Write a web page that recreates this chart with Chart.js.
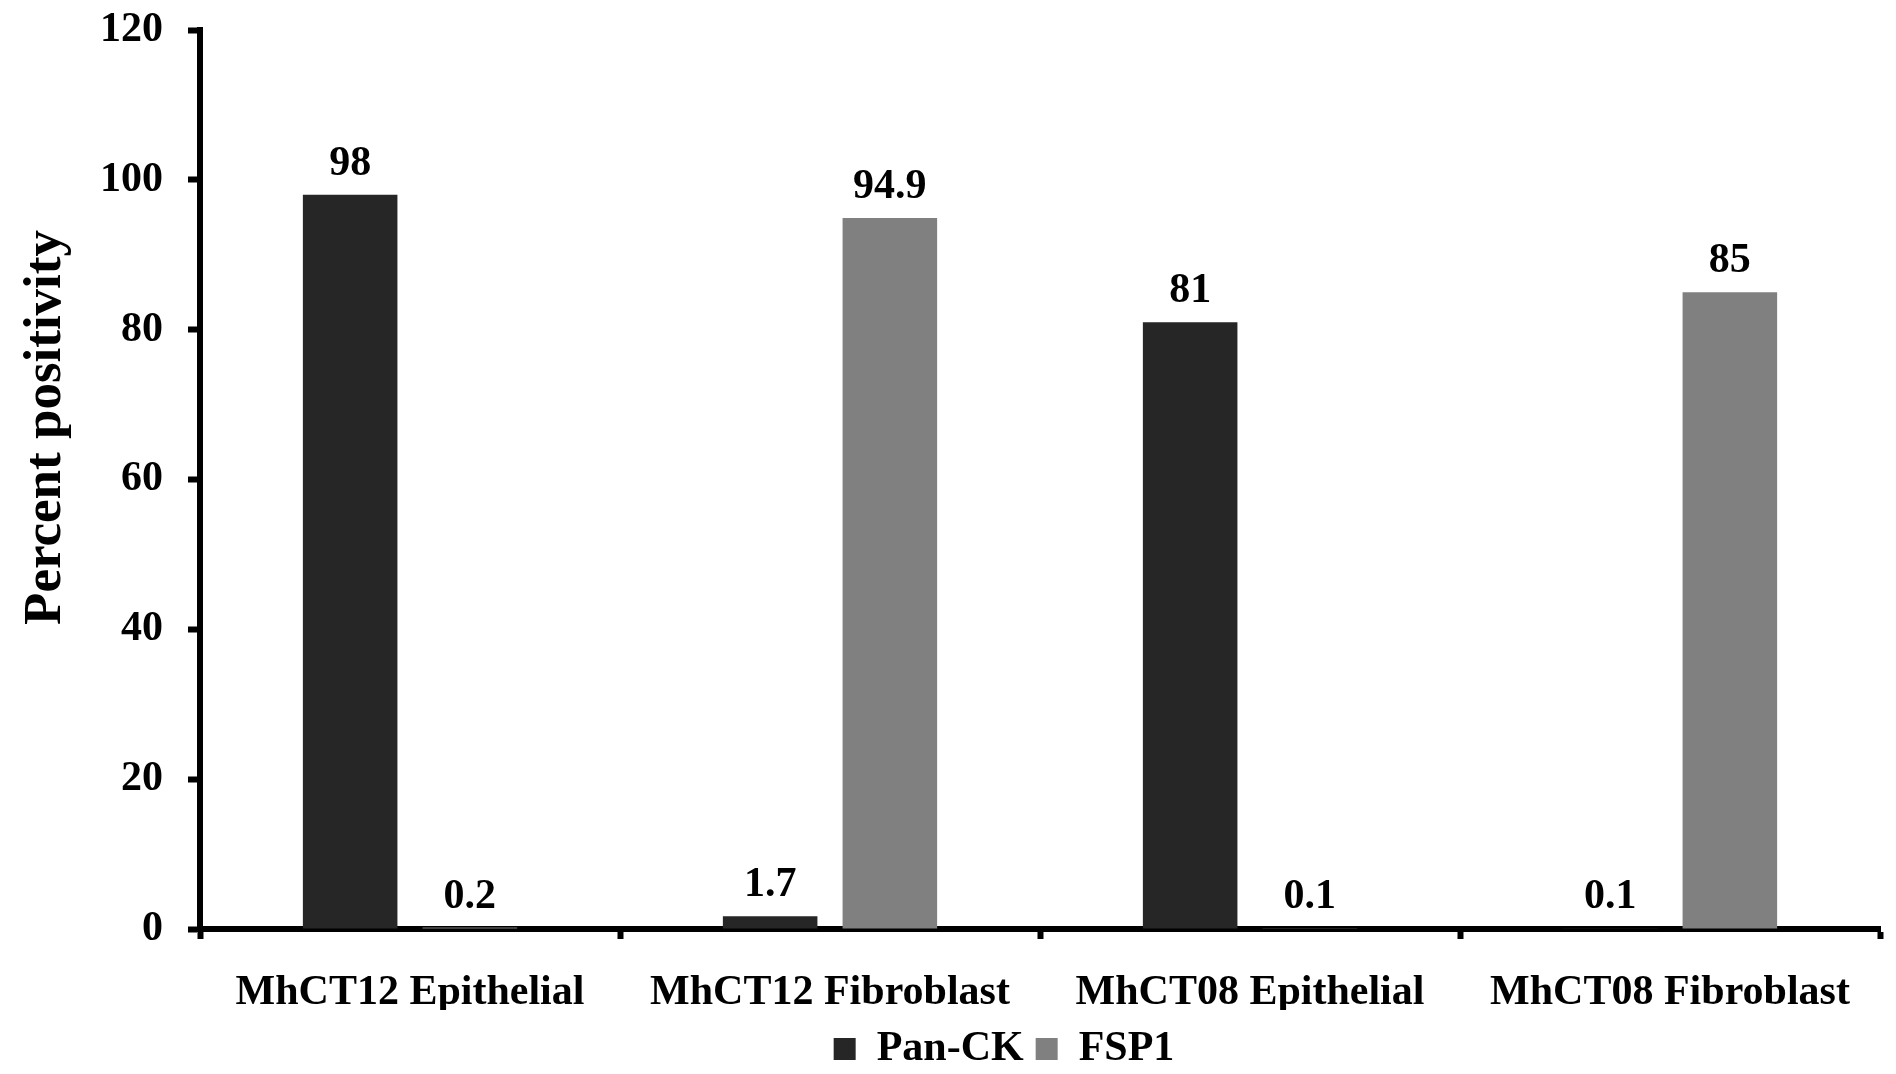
<!DOCTYPE html>
<html>
<head>
<meta charset="utf-8">
<script src="https://cdn.jsdelivr.net/npm/chart.js@4"></script>
<style>
  html, body { margin: 0; padding: 0; background: #fff; }
  #wrap { width: 1896px; height: 1074px; position: relative; }
</style>
</head>
<body>
<div id="wrap"><canvas id="chart"></canvas></div>
<script>
// chart values
const categories = ['MhCT12 Epithelial', 'MhCT12 Fibroblast', 'MhCT08 Epithelial', 'MhCT08 Fibroblast'];
const panCK = [98, 1.7, 81, 0.1];
const fsp1 = [0.2, 94.9, 0.1, 85];
const yTicks = [0, 20, 40, 60, 80, 100, 120];
const yTitle = 'Percent positivity';

const FONT = '"Liberation Serif", "Times New Roman", serif';

// value labels above each bar
const valueLabels = {
    id: 'valueLabels',
    afterDatasetsDraw(chart) {
        const ctx = chart.ctx;
        ctx.save();
        ctx.font = 'bold 42px ' + FONT;
        ctx.fillStyle = '#000';
        ctx.textAlign = 'center';
        ctx.textBaseline = 'alphabetic';
        chart.data.datasets.forEach((ds, i) => {
            chart.getDatasetMeta(i).data.forEach((bar, j) => {
                ctx.fillText(String(ds.data[j]), bar.x, bar.y - 20);
            });
        });
        ctx.restore();
    }
};

// y title sits a bit above the middle of the axis in the original
const axisTitle = {
    id: 'axisTitle',
    afterDraw(chart) {
        const ctx = chart.ctx;
        const area = chart.chartArea;
        ctx.save();
        ctx.translate(46, (area.top + area.bottom) / 2 - 52);
        ctx.rotate(-Math.PI / 2);
        ctx.font = 'bold 53px ' + FONT;
        ctx.fillStyle = '#000';
        ctx.textAlign = 'center';
        ctx.textBaseline = 'middle';
        ctx.fillText(yTitle, 0, 0);
        ctx.restore();
    }
};

// nudge the legend a little left and down, like the original
const legendShift = {
    id: 'legendShift',
    afterLayout(chart) {
        const lg = chart.legend;
        lg.left -= 36; lg.right -= 36;
        lg.top += 6; lg.bottom += 6;
    }
};

new Chart(document.getElementById('chart'), {
    type: 'bar',
    data: {
        labels: categories,
        datasets: [
            { label: 'Pan-CK', data: panCK, backgroundColor: '#262626' },
            { label: 'FSP1', data: fsp1, backgroundColor: '#808080' }
        ]
    },
    options: {
        responsive: true,
        maintainAspectRatio: false,
        animation: false,
        categoryPercentage: 0.57,
        barPercentage: 0.79,
        layout: { padding: { top: 30, left: 16, right: 16, bottom: 0 } },
        plugins: {
            tooltip: { enabled: false },
            legend: {
                position: 'bottom',
                fullSize: false,
                labels: {
                    boxWidth: 22,
                    boxHeight: 22,
                    padding: 12,
                    color: '#000',
                    font: { family: FONT, size: 42, weight: 'bold' }
                }
            }
        },
        scales: {
            x: {
                afterFit(scale) { scale.height = 81; },
                grid: { display: true, drawOnChartArea: false, drawTicks: true, tickLength: 10, tickWidth: 6, tickColor: '#000' },
                border: { display: true, color: '#000', width: 6 },
                ticks: {
                    color: '#000',
                    padding: 29,
                    maxRotation: 0,
                    autoSkip: false,
                    font: { family: FONT, size: 42, weight: 'bold' }
                }
            },
            y: {
                min: 0,
                max: 120,
                afterBuildTicks(scale) {
                    scale.ticks = yTicks.map(v => ({ value: v }));
                },
                afterFit(scale) { scale.width = 184; },
                grid: { display: true, drawOnChartArea: false, drawTicks: true, tickLength: 12, tickWidth: 6, tickColor: '#000' },
                border: { display: true, color: '#000', width: 6 },
                ticks: {
                    color: '#000',
                    padding: 25,
                    // small line height keeps the top label from pushing the plot down
                    font: { family: FONT, size: 42, weight: 'bold', lineHeight: 0.2 }
                }
            }
        }
    },
    plugins: [valueLabels, axisTitle, legendShift]
});
</script>
</body>
</html>
